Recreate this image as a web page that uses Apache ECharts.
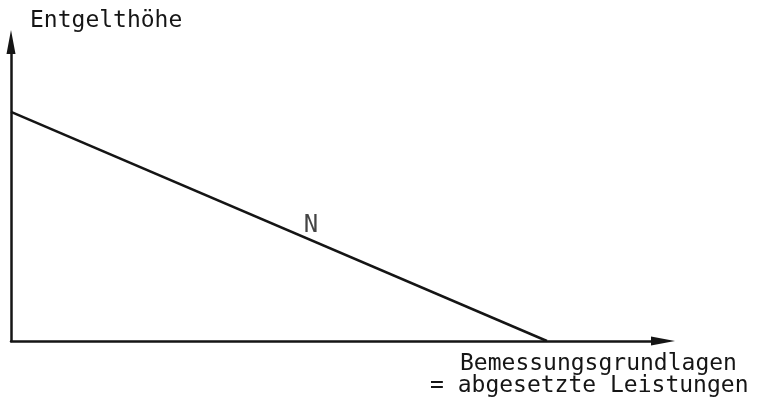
<!DOCTYPE html>
<html>
<head>
<meta charset="utf-8">
<script src="https://cdn.jsdelivr.net/npm/echarts@6/dist/echarts.min.js"></script>
<style>
html,body{margin:0;padding:0;background:#fff;}
#chart{width:765px;height:404px;}
</style>
</head>
<body>
<div id="chart"></div>
<script>
// Data
const lineN_x = [0, 82.2];
const lineN_y = [76.6, 0];
const lineLabel = 'N';
const labelPoint = [46.0, 38.5];
const yTitle = 'Entgelthöhe';
const xTitle = ['Bemessungsgrundlagen', '= abgesetzte Leistungen'];

const FONT = '"DejaVu Sans Mono", "Liberation Mono", monospace';
const INK = '#151515';

const chart = echarts.init(document.getElementById('chart'), null, {renderer: 'canvas'});
chart.setOption({
  animation: false,
  backgroundColor: '#ffffff',
  grid: {left: 11, right: 102, top: 42, bottom: 63, containLabel: false},
  xAxis: {
    type: 'value', min: 0, max: 100,
    axisLine: {show: true, onZero: false, symbol: ['none', 'triangle'], symbolSize: [9, 24],
      lineStyle: {color: INK, width: 2.5}},
    axisTick: {show: false}, axisLabel: {show: false}, splitLine: {show: false}
  },
  yAxis: {
    type: 'value', min: 0, max: 100,
    axisLine: {show: true, onZero: false, symbol: ['none', 'triangle'], symbolSize: [9, 24],
      lineStyle: {color: INK, width: 2.5}},
    axisTick: {show: false}, axisLabel: {show: false}, splitLine: {show: false}
  },
  series: [
    {
      type: 'line',
      data: lineN_x.map((x, i) => [x, lineN_y[i]]),
      showSymbol: false,
      lineStyle: {color: INK, width: 2.5},
      silent: true
    },
    {
      type: 'scatter',
      data: [labelPoint],
      symbolSize: 0,
      label: {show: true, position: 'inside', formatter: lineLabel,
        fontFamily: FONT, fontSize: 24, color: INK, textBorderWidth: 0}
    }
  ],
  graphic: [
    {type: 'text', left: 30, top: 10,
      style: {text: yTitle, font: '23px ' + FONT, fill: INK}},
    {type: 'text', left: 460, top: 353,
      style: {text: xTitle[0], font: '23px ' + FONT, fill: INK}},
    {type: 'text', left: 430, top: 375,
      style: {text: xTitle[1], font: '23px ' + FONT, fill: INK}}
  ]
});
</script>
</body>
</html>
